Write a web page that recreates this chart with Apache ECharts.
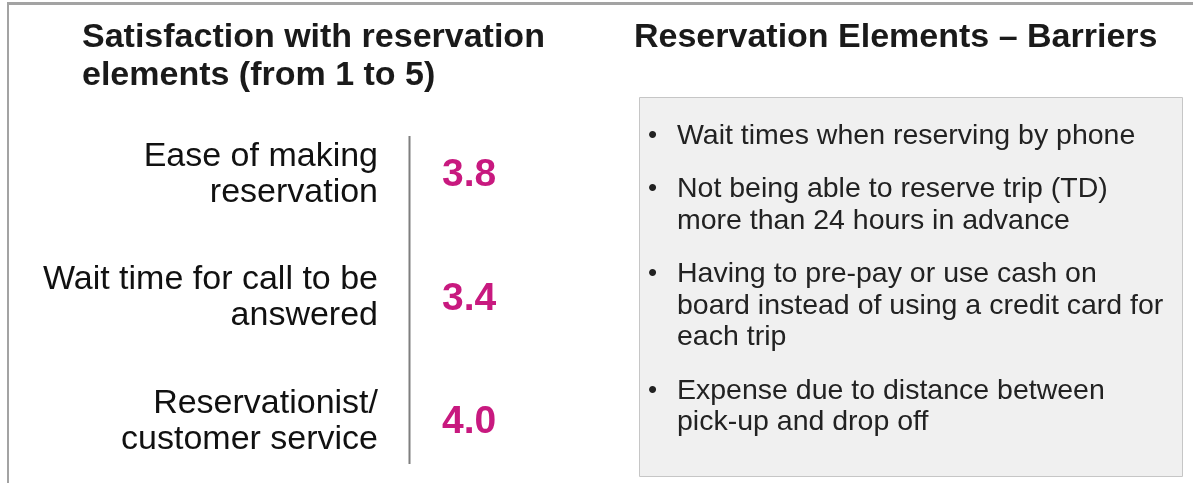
<!DOCTYPE html>
<html>
<head>
<meta charset="utf-8">
<script src="https://cdn.jsdelivr.net/npm/echarts@6/dist/echarts.min.js"></script>
<style>
  html, body { margin: 0; padding: 0; background: #fff; }
  #chart { width: 1193px; height: 483px; }
</style>
</head>
<body>
<div id="chart"></div>
<script>
// data
const categories = ['Ease of making\nreservation', 'Wait time for call to be\nanswered', 'Reservationist/\ncustomer service']
const scores = [3.8, 3.4, 4.0]
const leftTitle = 'Satisfaction with reservation\nelements (from 1 to 5)'
const rightTitle = 'Reservation Elements – Barriers'
const barriers = [
  'Wait times when reserving by phone',
  'Not being able to reserve trip (TD)\nmore than 24 hours in advance',
  'Having to pre-pay or use cash on\nboard instead of using a credit card for\neach trip',
  'Expense due to distance between\npick-up and drop off',
]

const FONT = '"Liberation Sans", Arial, Helvetica, sans-serif'
const MAGENTA = '#c8197f'

const chart = echarts.init(document.getElementById('chart'), null, { renderer: 'canvas' })

// barrier list inside the grey box
const lineH = 31.5
const gap = 22
const bulletEls = []
let y = 120
barriers.forEach(t => {
  const n = t.split('\n').length
  bulletEls.push({
    type: 'text', x: 648, y: y,
    style: { text: '•', font: `26px ${FONT}`, fill: '#222', verticalAlign: 'top', lineHeight: lineH }
  })
  bulletEls.push({
    type: 'text', x: 677, y: y,
    style: { text: t, font: `28.5px ${FONT}`, fill: '#222', verticalAlign: 'top', lineHeight: lineH }
  })
  y += n * lineH + gap
})

chart.setOption({
  backgroundColor: '#fff',
  animation: false,
  title: [
    {
      text: leftTitle, left: 82, top: 19, padding: 0,
      textStyle: { fontFamily: FONT, fontSize: 34, fontWeight: 'bold', lineHeight: 38, color: '#1a1a1a' }
    },
    {
      text: rightTitle, left: 634, top: 19, padding: 0,
      textStyle: { fontFamily: FONT, fontSize: 34, fontWeight: 'bold', lineHeight: 38, color: '#1a1a1a' }
    }
  ],
  grid: { left: 409, top: 113, width: 180, height: 373 },
  xAxis: { type: 'value', min: 0, max: 5, show: false },
  yAxis: {
    type: 'category',
    data: categories,
    inverse: true,
    axisLine: { show: false },
    axisTick: { show: false },
    splitLine: { show: false },
    axisLabel: {
      margin: 31,
      fontFamily: FONT,
      fontSize: 34,
      lineHeight: 36,
      color: '#111'
    }
  },
  series: [{
    type: 'bar',
    data: scores,
    silent: true,
    barWidth: 10,
    itemStyle: { color: 'rgba(0,0,0,0)' },
    label: {
      show: true,
      position: 'insideLeft',
      distance: 33,
      offset: [0, 1],
      formatter: p => p.value.toFixed(1),
      fontFamily: FONT,
      fontSize: 39,
      fontWeight: 'bold',
      color: MAGENTA
    }
  }],
  graphic: [
    // slide frame
    { type: 'line', shape: { x1: 7, y1: 3.5, x2: 1193, y2: 3.5 }, style: { stroke: '#a3a3a3', lineWidth: 3 } },
    { type: 'line', shape: { x1: 8, y1: 3, x2: 8, y2: 483 }, style: { stroke: '#a3a3a3', lineWidth: 2 } },
    // separator between labels and scores
    { type: 'line', shape: { x1: 409.5, y1: 136, x2: 409.5, y2: 464 }, style: { stroke: '#7f7f7f', lineWidth: 2 } },
    // grey barrier box
    {
      type: 'rect', shape: { x: 639.5, y: 97.5, width: 543, height: 379 },
      style: { fill: '#f0f0f0', stroke: '#c6c6c6', lineWidth: 1 }
    },
    ...bulletEls
  ]
})
</script>
</body>
</html>
